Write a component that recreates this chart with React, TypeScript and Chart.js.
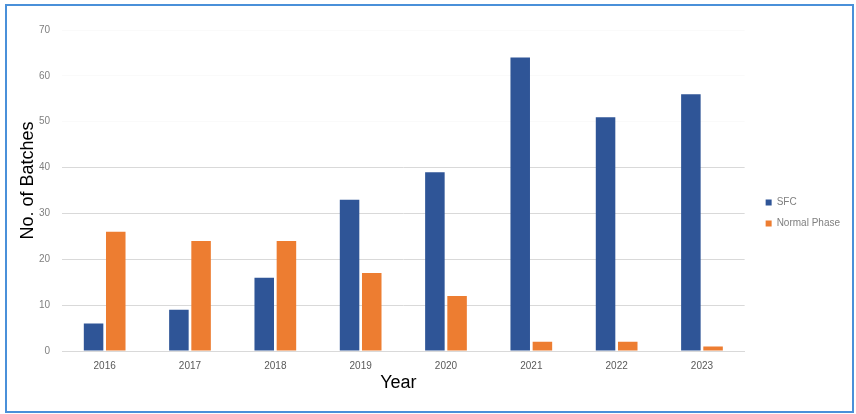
import React, { useEffect, useRef } from "react";
import { Chart, registerables } from "chart.js";

Chart.register(...registerables);

const years = ["2016", "2017", "2018", "2019", "2020", "2021", "2022", "2023"];
const sfcValues = [6, 9, 16, 33, 39, 64, 51, 56];
const normalPhaseValues = [26, 24, 24, 17, 12, 2, 2, 1];
const seriesNames = ["SFC", "Normal Phase"];
const yTickMax = 70;
const yTickStep = 10;

const legendShift = {
  id: "legendShift",
  afterLayout(chart: any) {
    const l = chart.legend;
    if (l) {
      l.left += 10;
      l.right += 10;
      l.top -= 3;
      l.bottom -= 3;
    }
  },
};

export default function App() {
  const ref = useRef<HTMLCanvasElement | null>(null);

  useEffect(() => {
    if (!ref.current) return;
    const chart = new Chart(ref.current, {
      type: "bar",
      data: {
        labels: years,
        datasets: [
          {
            label: seriesNames[0],
            data: sfcValues,
            backgroundColor: "#2f5597",
            categoryPercentage: 0.52,
            barPercentage: 0.88,
          },
          {
            label: seriesNames[1],
            data: normalPhaseValues,
            backgroundColor: "#ed7d31",
            categoryPercentage: 0.52,
            barPercentage: 0.88,
          },
        ],
      },
      plugins: [legendShift],
      options: {
        animation: false,
        responsive: false,
        maintainAspectRatio: false,
        layout: { padding: { left: 0, right: 16, top: 30, bottom: 12 } },
        plugins: {
          tooltip: { enabled: false },
          legend: {
            position: "right",
            labels: {
              boxWidth: 6,
              boxHeight: 6,
              color: "#7f7f7f",
              font: { family: "Liberation Sans", size: 10 },
              padding: 11,
            },
          },
        },
        scales: {
          x: {
            grid: { display: false, drawTicks: false },
            border: { color: "#d9d9d9" },
            ticks: { color: "#595959", font: { family: "Liberation Sans", size: 10 }, padding: 9 },
            title: {
              display: true,
              text: "Year  ",
              color: "#000",
              font: { family: "Liberation Sans", size: 18 },
              padding: { top: 0, bottom: 8 },
            },
            afterFit(scale: any) {
              scale.height = 51;
            },
          },
          y: {
            min: 0,
            max: yTickMax,
            grid: {
              color: (ctx: any) =>
                ctx.tick && ctx.tick.value > 40 ? "rgba(217,217,217,0.12)" : "#d9d9d9",
              drawTicks: false,
            },
            border: { display: false },
            ticks: {
              stepSize: yTickStep,
              color: "#7f7f7f",
              font: { family: "Liberation Sans", size: 10 },
              padding: 12,
            },
            title: {
              display: true,
              text: "    No. of Batches",
              color: "#000",
              font: { family: "Liberation Sans", size: 18 },
              padding: { top: 17, bottom: 0 },
            },
            afterFit(scale: any) {
              scale.width = 62;
            },
          },
        },
      },
    });
    return () => chart.destroy();
  }, []);

  return (
    <div
      style={{
        position: "absolute",
        left: 0,
        top: 0,
        width: 856,
        height: 414,
        background: "#fff",
      }}
    >
      <div
        style={{
          position: "absolute",
          left: 5,
          top: 4,
          width: 845,
          height: 405,
          border: "2px solid #4a90d9",
          boxSizing: "content-box",
        }}
      />
      <canvas ref={ref} width={856} height={414} style={{ position: "absolute", left: 0, top: 0 }} />
    </div>
  );
}
